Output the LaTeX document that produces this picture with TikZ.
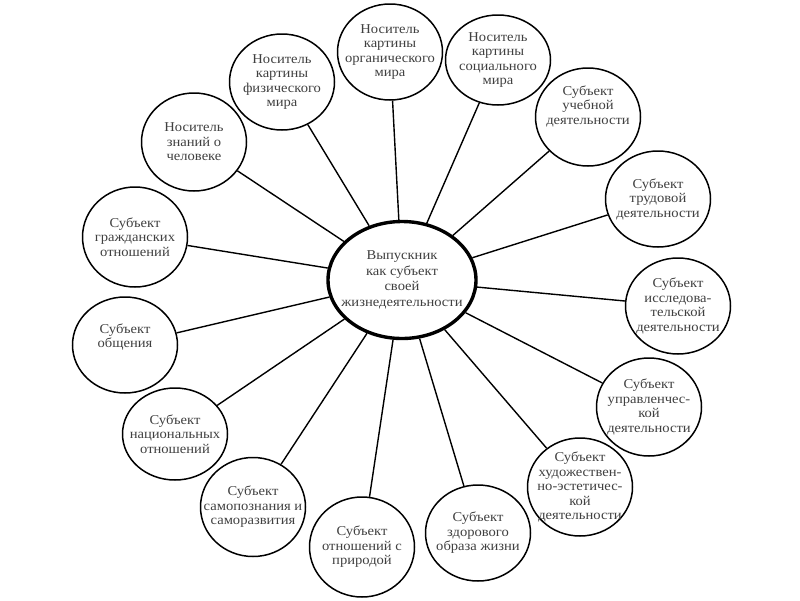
\documentclass[tikz,border=0pt]{standalone}
\usepackage{fontspec}
\setmainfont[FakeStretch=1.08]{Liberation Serif}
\usetikzlibrary{shapes.geometric}

\begin{document}
\begin{tikzpicture}[x=1pt, y=-1pt,
    role/.style={draw, ellipse, line width=1.5pt, minimum width=105pt, minimum height=96pt,
      inner sep=-20pt, align=center, text=black!75, font=\fontsize{13.5}{14.5}\selectfont},
    hub/.style={draw, ellipse, line width=3.4pt, minimum width=148pt, minimum height=117pt,
      inner sep=-20pt, align=center, text=black!75, font=\fontsize{13.5}{15.5}\selectfont},
    link/.style={line width=1.4pt}]
  \useasboundingbox (0,0) rectangle (800,600);

  % centre
  \node[hub] (grad) at (402,280) {Выпускник\\как субъект\\своей\\жизнедеятельности};

  % outer ring, clockwise from the top left
  \node[role] (fiz) at (282,82) {Носитель\\картины\\физического\\мира};
  \node[role] (org) at (390,52) {Носитель\\картины\\органического\\мира};
  \node[role, minimum height=90pt] (soc) at (498,60) {Носитель\\картины\\социального\\мира};
  \node[role, minimum height=98pt] (ucheb) at (588,117) {Субъект\\учебной\\деятельности\\[10pt]};
  \node[role] (trud) at (658,199) {Субъект\\трудовой\\деятельности};
  \node[role] (issl) at (678,306) {Субъект\\исследова-\\тельской\\деятельности};
  \node[role, minimum height=98pt] (upr) at (649,407) {Субъект\\управленчес-\\кой\\деятельности};
  \node[role, minimum height=98pt] (hud) at (580,487) {Субъект\\художествен-\\но-эстетичес-\\кой\\деятельности};
  \node[role] (zdor) at (478,533) {Субъект\\здорового\\образа жизни};
  \node[role, minimum height=100pt] (prir) at (362,547) {Субъект\\отношений с\\природой};
  \node[role, minimum height=99pt] (samo) at (253,507) {Субъект\\самопознания и\\саморазвития};
  \node[role, minimum height=92pt] (nac) at (175,434) {Субъект\\национальных\\отношений};
  \node[role] (obsh) at (125,345) {Субъект\\общения\\[4pt]};
  \node[role, minimum height=100pt] (grazh) at (135,237) {Субъект\\гражданских\\отношений};
  \node[role, minimum height=98pt] (znan) at (194,142) {Носитель\\знаний о\\человеке};

  \foreach \n in {fiz, org, soc, ucheb, trud, issl, upr, hud, zdor, prir, samo, nac, obsh, grazh, znan}
    \draw[link] (grad) -- (\n);
\end{tikzpicture}
\end{document}
